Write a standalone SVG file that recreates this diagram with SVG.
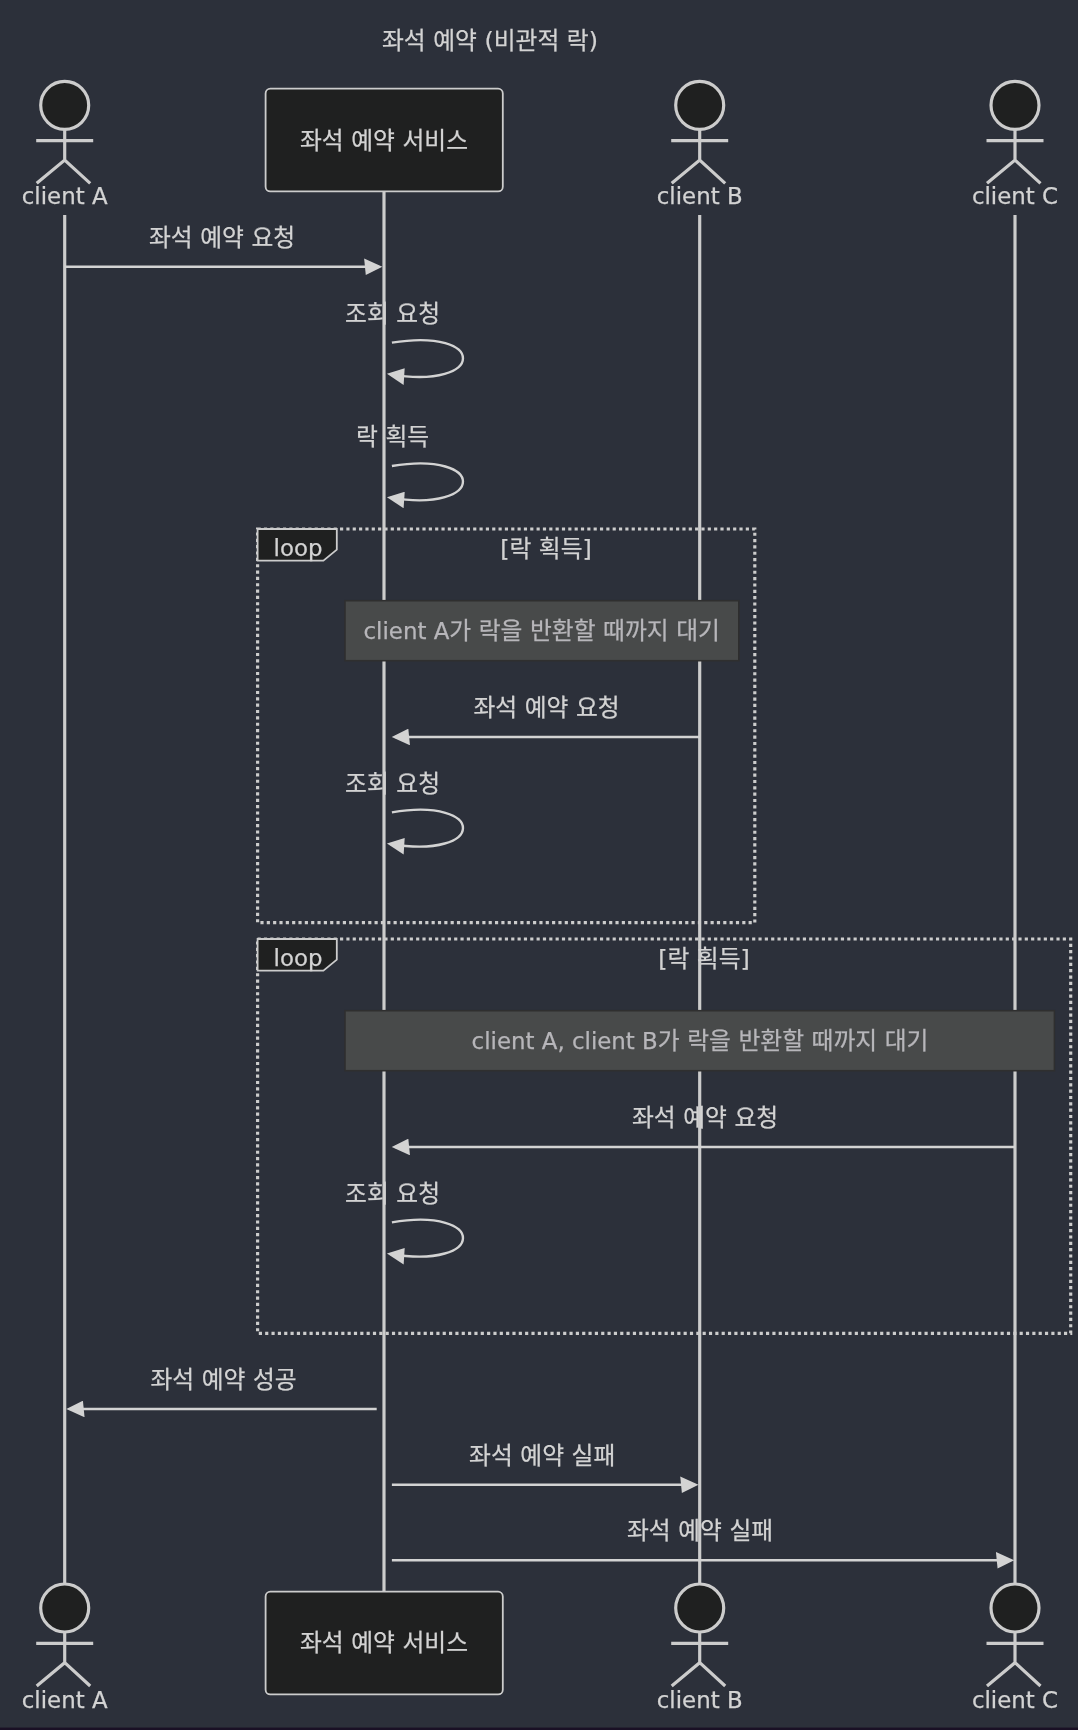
<svg xmlns="http://www.w3.org/2000/svg" width="1078" height="1730" viewBox="0 0 1078 1730">
<style>
text{font-family:"DejaVu Sans","Noto Sans CJK KR",sans-serif;font-size:23.76px;fill:#d3d3d3;stroke:#d3d3d3;stroke-width:0.25;text-anchor:middle}
.lat{font-size:22.9px}
.actor{fill:#1f2020;stroke:#ccc;stroke-width:3.17}
.stick{fill:none;stroke:#ccc;stroke-width:3.17}
.box{fill:#1f2020;stroke:#ccc;stroke-width:1.8}
.life{stroke:#ccc;stroke-width:3.17;fill:none}
.msg{stroke:#d3d3d3;stroke-width:2.38;fill:none;marker-end:url(#arrow)}
.frame{fill:none;stroke:#ccc;stroke-width:3.17;stroke-dasharray:3.17 3.17}
.tab{fill:#1f2020;stroke:#ccc;stroke-width:1.8}
.note{fill:#484a4a;stroke:#2f2f2f;stroke-width:1.58}
text.notetext{fill:#b7b6ba;stroke:#b7b6ba}
</style>
<defs>
<filter id="soft" filterUnits="userSpaceOnUse" x="0" y="0" width="1078" height="1730" color-interpolation-filters="sRGB"><feGaussianBlur stdDeviation="0.45"/></filter>
<marker id="arrow" markerUnits="userSpaceOnUse" markerWidth="20" markerHeight="16.6" viewBox="-1 0 12 10" refX="7.9" refY="5" orient="auto"><path d="M-1 0L10 5L0 10z" fill="#d3d3d3"/></marker>
<g id="stickman">
<circle class="actor" cx="0" cy="0" r="24"/>
<path class="stick" d="M0 24V54.7M-28.5 35.4H28.5M-28 78L0 54.7L25.5 78"/>
</g>
</defs>
<rect width="1078" height="1730" fill="#2c303a"/>
<rect y="1727.6" width="1078" height="2.4" fill="#1a1025"/>
<g filter="url(#soft)">
<text id="title" x="490" y="48.5">좌석 예약 (비관적 락)</text>
<g id="lifelines">
<path class="life" d="M64.7 215V1584"/>
<path class="life" d="M384 191V1592"/>
<path class="life" d="M699.7 215V1584"/>
<path class="life" d="M1015 215V1584"/>
</g>
<g id="client-a-top"><use href="#stickman" x="64.7" y="105.3"/><text class="lat" x="64.7" y="204.2">client A</text></g>
<g id="service-top"><rect class="box" x="265.6" y="88.7" width="237.2" height="102.7" rx="4.75"/><text x="384" y="148.5">좌석 예약 서비스</text></g>
<g id="client-b-top"><use href="#stickman" x="699.7" y="105.3"/><text class="lat" x="699.7" y="204.2">client B</text></g>
<g id="client-c-top"><use href="#stickman" x="1015" y="105.3"/><text class="lat" x="1015" y="204.2">client C</text></g>
<g id="loop-1">
<rect class="frame" x="257.6" y="529" width="497.2" height="393.7"/>
<path class="tab" d="M257.6 529H336.8V549.6L323.4 560.7H257.6z"/>
<text class="lat" x="298" y="555.5">loop</text>
<text x="546" y="557">[락 획득]</text>
<rect class="note" x="345" y="600.7" width="393.8" height="60"/>
<text class="notetext" x="541.7" y="638.8"><tspan class="lat">client A</tspan>가 락을 반환할 때까지 대기</text>
</g>
<g id="loop-2">
<rect class="frame" x="257.6" y="939" width="813.1" height="394.3"/>
<path class="tab" d="M257.6 939H336.8V959.6L323.4 970.7H257.6z"/>
<text class="lat" x="298" y="965.5">loop</text>
<text x="704" y="967">[락 획득]</text>
<rect class="note" x="345" y="1010.7" width="709.4" height="60"/>
<text class="notetext" x="700" y="1048.8"><tspan class="lat">client A, client B</tspan>가 락을 반환할 때까지 대기</text>
</g>
<g id="connectors">
<path class="msg" d="M64.7 266.7H378.9"/>
<path class="msg" d="M391.9 342.7C486.9 326.9 486.9 390.2 390.4 374.4"/>
<path class="msg" d="M391.9 466C486.9 450.2 486.9 513.5 390.4 497.7"/>
<path class="msg" d="M699.7 737H395.2"/>
<path class="msg" d="M391.9 812.3C486.9 796.5 486.9 859.8 390.4 844"/>
<path class="msg" d="M1015 1147H395.2"/>
<path class="msg" d="M391.9 1222.3C486.9 1206.5 486.9 1269.8 390.4 1254"/>
<path class="msg" d="M376.7 1409H69.8"/>
<path class="msg" d="M391.9 1484.7H695"/>
<path class="msg" d="M391.9 1560.3H1010.7"/>
</g>
<g id="labels">
<text x="222" y="246.2">좌석 예약 요청</text>
<text x="392.6" y="322.2">조회 요청</text>
<text x="392.6" y="445.2">락 획득</text>
<text x="546.5" y="716.2">좌석 예약 요청</text>
<text x="392.6" y="792.2">조회 요청</text>
<text x="705" y="1126.2">좌석 예약 요청</text>
<text x="392.6" y="1202.2">조회 요청</text>
<text x="223.5" y="1388.2">좌석 예약 성공</text>
<text x="542.2" y="1464.2">좌석 예약 실패</text>
<text x="700" y="1539.2">좌석 예약 실패</text>
</g>
<g id="client-a-bottom"><use href="#stickman" x="64.7" y="1608"/><text class="lat" x="64.7" y="1707.5">client A</text></g>
<g id="service-bottom"><rect class="box" x="265.6" y="1591.7" width="237.2" height="102.7" rx="4.75"/><text x="384" y="1651">좌석 예약 서비스</text></g>
<g id="client-b-bottom"><use href="#stickman" x="699.7" y="1608"/><text class="lat" x="699.7" y="1707.5">client B</text></g>
<g id="client-c-bottom"><use href="#stickman" x="1015" y="1608"/><text class="lat" x="1015" y="1707.5">client C</text></g>
</g>
</svg>
